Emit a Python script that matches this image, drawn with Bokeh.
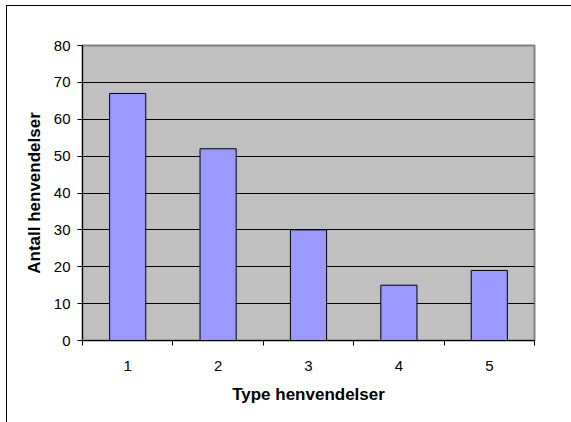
from bokeh.plotting import figure
from bokeh.models import FixedTicker, Range1d
from bokeh.embed import file_html
from bokeh.resources import INLINE

categories = [1, 2, 3, 4, 5]
values = [67, 52, 30, 15, 19]
y_ticks = [0, 10, 20, 30, 40, 50, 60, 70, 80]
x_title = "Type henvendelser"
y_title = "Antall henvendelser"

FONT = "Liberation Sans"

p = figure(width=565, height=417, output_backend="svg", toolbar_location=None,
           x_range=Range1d(0.5, 5.5), y_range=Range1d(0, 80),
           min_border_left=75, min_border_right=38, min_border_top=39, min_border_bottom=83,
           background_fill_color="#C0C0C0", border_fill_color="white",
           outline_line_color="#808080", outline_line_width=2,
           styles={"margin-left": "6px", "margin-top": "5px",
                   "border-left": "1px solid black", "border-top": "1px solid black"})

p.vbar(x=categories, top=values, width=0.4, fill_color="#9999FF",
       line_color="black", line_width=1)

# x axis
p.xaxis.ticker = FixedTicker(ticks=categories,
                             minor_ticks=[c - 0.5 for c in categories] + [categories[-1] + 0.5])
p.xaxis.major_tick_line_alpha = 0
p.xaxis.major_tick_out = 5
p.xaxis.major_tick_in = 0
p.xaxis.minor_tick_out = 5
p.xaxis.minor_tick_in = 0
p.xaxis.minor_tick_line_color = "black"
p.xaxis.axis_line_color = "black"
p.xaxis.axis_line_width = 1
p.xaxis.major_label_standoff = 15
p.xaxis.major_label_text_font = FONT
p.xaxis.major_label_text_font_size = "15px"
p.xaxis.major_label_text_color = "black"
p.xaxis.axis_label = x_title
p.xaxis.axis_label_text_font = FONT
p.xaxis.axis_label_text_font_size = "17px"
p.xaxis.axis_label_text_font_style = "bold"
p.xaxis.axis_label_text_color = "black"
p.xaxis.axis_label_standoff = 11

# y axis
p.yaxis.ticker = FixedTicker(ticks=y_ticks, minor_ticks=[])
p.yaxis.major_tick_out = 5
p.yaxis.major_tick_in = 0
p.yaxis.major_tick_line_color = "black"
p.yaxis.axis_line_color = "black"
p.yaxis.major_label_standoff = 7
p.yaxis.major_label_text_font = FONT
p.yaxis.major_label_text_font_size = "15px"
p.yaxis.major_label_text_color = "black"
p.yaxis.axis_label = y_title
p.yaxis.axis_label_text_font = FONT
p.yaxis.axis_label_text_font_size = "17px"
p.yaxis.axis_label_text_font_style = "bold"
p.yaxis.axis_label_text_color = "black"
p.yaxis.axis_label_standoff = 7

p.xgrid.grid_line_color = None
p.ygrid.ticker = FixedTicker(ticks=y_ticks)
p.ygrid.grid_line_color = "black"
p.ygrid.grid_line_width = 1

open("out.html", "w").write(file_html(p, INLINE))
